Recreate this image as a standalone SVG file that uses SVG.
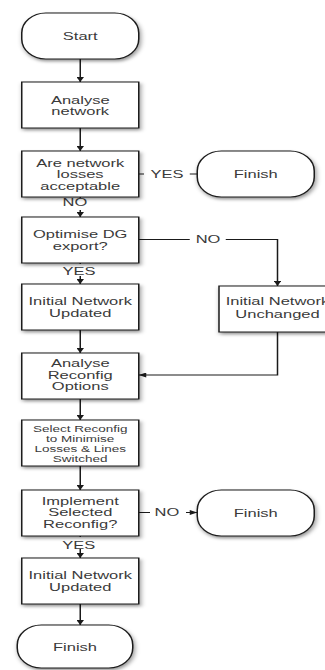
<svg xmlns="http://www.w3.org/2000/svg" width="325" height="670" viewBox="0 0 325 670">
<defs>
<filter id="sh" x="-20%" y="-20%" width="140%" height="150%">
<feDropShadow dx="1" dy="2" stdDeviation="1.6" flood-color="#000" flood-opacity="0.4"/>
</filter>
<marker id="ah" viewBox="0 0 10 10" refX="10" refY="5" markerWidth="6" markerHeight="5" markerUnits="userSpaceOnUse" orient="auto">
<path d="M0,0 L10,5 L0,10 z" fill="#1a1a1a"/>
</marker>
<style>
.box{fill:#fff;stroke:#1a1a1a;stroke-width:1;filter:url(#sh)}
.t{font-family:"Liberation Sans",Arial,Helvetica,sans-serif;font-size:11px;fill:#3a3a3a;text-anchor:middle}
.s{font-size:9px}
.c{fill:none;stroke:#1a1a1a;stroke-width:1}
.a{marker-end:url(#ah)}
.bg{fill:#fff}
</style>
</defs>
<rect width="325" height="670" fill="#fff"/>
<g transform="scale(1.5,1)">
<g id="connectors">
<line class="c a" x1="53.5" y1="59" x2="53.5" y2="82"/>
<line class="c a" x1="53.5" y1="128" x2="53.5" y2="151"/>
<line class="c" x1="92.5" y1="174" x2="131.5" y2="174"/>
<rect class="bg" x="96" y="166" width="30.5" height="15"/>
<text class="t" x="111.3" y="178">YES</text>
<line class="c a" x1="53.5" y1="197" x2="53.5" y2="217"/>
<rect class="bg" x="37" y="198" width="32" height="12"/>
<text class="t" x="50" y="206.5">NO</text>
<polyline class="c a" points="92.5,239.5 185,239.5 185,286"/>
<rect class="bg" x="126.5" y="232" width="24" height="15"/>
<text class="t" x="138.7" y="243.5">NO</text>
<line class="c a" x1="53.5" y1="263" x2="53.5" y2="284"/>
<rect class="bg" x="38" y="264" width="31" height="12"/>
<text class="t" x="52.7" y="275">YES</text>
<line class="c a" x1="53.5" y1="330" x2="53.5" y2="353"/>
<polyline class="c a" points="185,332 185,375 92.5,375"/>
<line class="c a" x1="53.5" y1="399" x2="53.5" y2="420"/>
<line class="c a" x1="53.5" y1="466" x2="53.5" y2="490"/>
<line class="c a" x1="92.5" y1="512.5" x2="131.5" y2="512.5"/>
<rect class="bg" x="100" y="505" width="24" height="15"/>
<text class="t" x="111.3" y="516.5">NO</text>
<line class="c a" x1="53.5" y1="536" x2="53.5" y2="558"/>
<rect class="bg" x="38" y="537" width="31" height="12"/>
<text class="t" x="52.5" y="549">YES</text>
<line class="c a" x1="53.5" y1="604" x2="53.5" y2="625"/>
</g>
<g id="start">
<rect class="box" x="14.5" y="13" width="78" height="46" rx="16" ry="20"/>
<text class="t" x="53.5" y="40">Start</text>
</g>
<g id="analyse-network">
<rect class="box" x="14.5" y="82" width="78" height="46"/>
<text class="t" x="53.5" y="104">Analyse</text>
<text class="t" x="53.5" y="115.5">network</text>
</g>
<g id="losses-acceptable">
<rect class="box" x="14.5" y="151" width="78" height="46"/>
<text class="t" x="53.5" y="167">Are network</text>
<text class="t" x="53.5" y="178.5">losses</text>
<text class="t" x="53.5" y="190">acceptable</text>
</g>
<g id="finish-1">
<rect class="box" x="131.5" y="151" width="78" height="46" rx="16" ry="20"/>
<text class="t" x="170.5" y="178">Finish</text>
</g>
<g id="optimise-dg">
<rect class="box" x="14.5" y="217" width="78" height="46"/>
<text class="t" x="53.5" y="238.5">Optimise DG</text>
<text class="t" x="53.5" y="250.5">export?</text>
</g>
<g id="network-updated-1">
<rect class="box" x="14.5" y="284" width="78" height="46"/>
<text class="t" x="53.5" y="305.5">Initial Network</text>
<text class="t" x="53.5" y="317">Updated</text>
</g>
<g id="network-unchanged">
<rect class="box" x="146" y="286" width="78" height="46"/>
<text class="t" x="185" y="305.5">Initial Network</text>
<text class="t" x="185" y="318">Unchanged</text>
</g>
<g id="analyse-reconfig">
<rect class="box" x="14.5" y="353" width="78" height="46"/>
<text class="t" x="53.5" y="367.5">Analyse</text>
<text class="t" x="53.5" y="379">Reconfig</text>
<text class="t" x="53.5" y="390.5">Options</text>
</g>
<g id="select-reconfig">
<rect class="box" x="14.5" y="420" width="78" height="46"/>
<text class="t s" x="53.5" y="432.5">Select Reconfig</text>
<text class="t s" x="53.5" y="442.5">to Minimise</text>
<text class="t s" x="53.5" y="452.5">Losses &amp; Lines</text>
<text class="t s" x="53.5" y="462.5">Switched</text>
</g>
<g id="implement-reconfig">
<rect class="box" x="14.5" y="490" width="78" height="46"/>
<text class="t" x="53.5" y="505">Implement</text>
<text class="t" x="53.5" y="516.5">Selected</text>
<text class="t" x="53.5" y="528">Reconfig?</text>
</g>
<g id="finish-2">
<rect class="box" x="131.5" y="490" width="78" height="46" rx="16" ry="20"/>
<text class="t" x="170.5" y="517">Finish</text>
</g>
<g id="network-updated-2">
<rect class="box" x="14.5" y="558" width="78" height="46"/>
<text class="t" x="53.5" y="579">Initial Network</text>
<text class="t" x="53.5" y="591">Updated</text>
</g>
<g id="finish-3">
<rect class="box" x="11.5" y="625" width="77" height="43" rx="16" ry="20"/>
<text class="t" x="50" y="651.5">Finish</text>
</g>
</g>
</svg>
